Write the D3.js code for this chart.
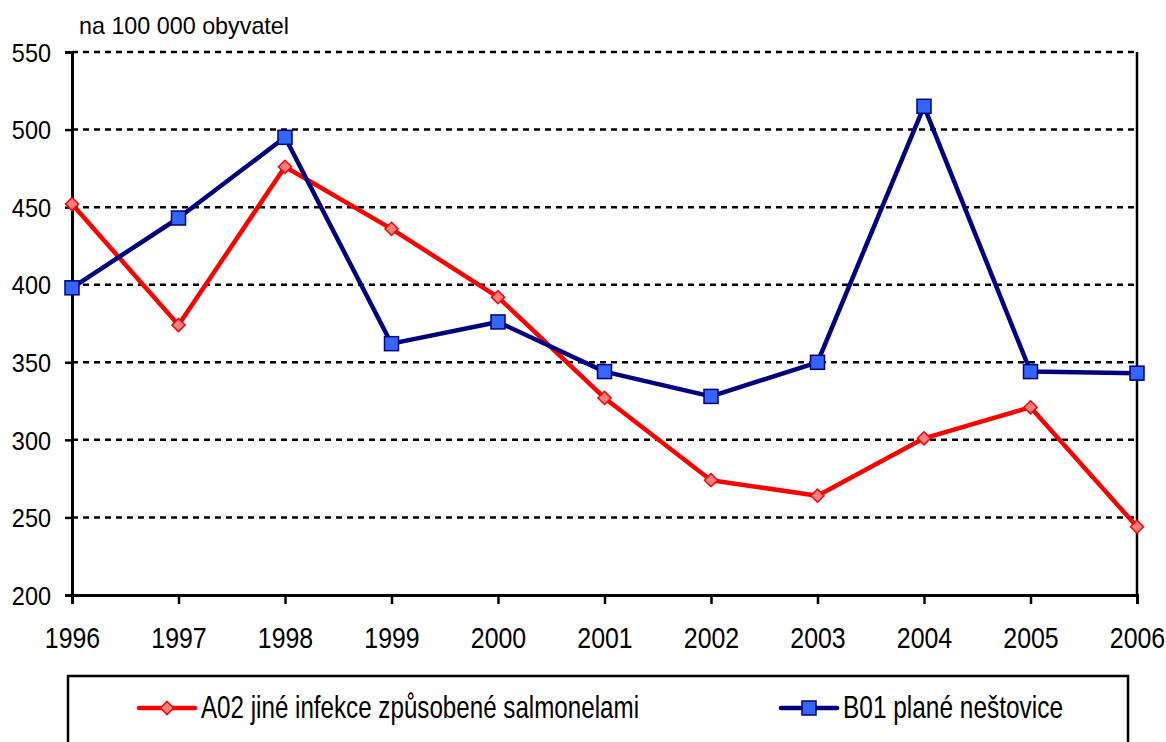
<!DOCTYPE html>
<html>
<head>
<meta charset="utf-8">
<script src="https://cdn.jsdelivr.net/npm/d3@7"></script>
<style>
  html, body { margin: 0; padding: 0; background: #fff; }
  svg { display: block; }
  text { font-family: "Liberation Sans", Arial, sans-serif; fill: #000; }
</style>
</head>
<body>
<svg id="chart"></svg>
<script>
// Data
const years = [1996, 1997, 1998, 1999, 2000, 2001, 2002, 2003, 2004, 2005, 2006]
const salmonela = [452, 374, 476, 436, 392, 327, 274, 264, 301, 321, 244]
const nestovice = [398, 443, 495, 362, 376, 344, 328, 350, 515, 344, 343]
const yTicks = [200, 250, 300, 350, 400, 450, 500, 550]
const unitLabel = 'na 100 000 obyvatel'
const seriesNames = ['A02 jiné infekce způsobené salmonelami', 'B01 plané neštovice']

const width = 1166
const height = 742
const margin = { top: 52, right: 29, bottom: 147, left: 72 }

const svg = d3.select('#chart')
  .attr('width', width)
  .attr('height', height)

const x = d3.scaleLinear()
  .domain([years[0], years[years.length - 1]])
  .range([margin.left, width - margin.right])

const y = d3.scaleLinear()
  .domain([200, 550])
  .range([height - margin.bottom, margin.top])

// Gridlines (dashed)
svg.append('g')
  .selectAll('line')
  .data(yTicks.filter(d => d > 200))
  .enter().append('line')
  .attr('x1', margin.left)
  .attr('x2', width - margin.right)
  .attr('y1', d => y(d))
  .attr('y2', d => y(d))
  .attr('stroke', '#000')
  .attr('stroke-width', 2.5)
  .attr('stroke-dasharray', '6,5')

// Right border
svg.append('line')
  .attr('x1', width - margin.right).attr('x2', width - margin.right)
  .attr('y1', margin.top).attr('y2', height - margin.bottom)
  .attr('stroke', '#000').attr('stroke-width', 2.5)

// Y axis
const yAxis = svg.append('g')
  .attr('transform', `translate(${margin.left},0)`)
  .call(d3.axisLeft(y).tickValues(yTicks).tickSize(7))
yAxis.select('.domain').attr('stroke-width', 3)
yAxis.selectAll('.tick line').attr('stroke-width', 2.5)
yAxis.selectAll('.tick text')
  .attr('font-size', 25.5)
  .attr('x', 0)
  .attr('dy', '0.36em')
  .attr('transform', 'translate(-21,0) scale(0.92,1)')

// X axis
const xAxis = svg.append('g')
  .attr('transform', `translate(0,${height - margin.bottom})`)
  .call(d3.axisBottom(x).tickValues(years).tickFormat(d3.format('d')).tickSize(9))
xAxis.select('.domain').attr('stroke-width', 3)
xAxis.selectAll('.tick line').attr('stroke-width', 2.5)
xAxis.selectAll('.tick text')
  .attr('font-size', 30)
  .attr('y', 0)
  .attr('dy', 0)
  .attr('transform', 'translate(0,53) scale(0.83,1)')

// Unit label
svg.append('text')
  .attr('x', 79)
  .attr('y', 33.5)
  .attr('font-size', 24)
  .attr('textLength', 210)
  .attr('lengthAdjust', 'spacingAndGlyphs')
  .text(unitLabel)

const line = d3.line()
  .x((d, i) => x(years[i]))
  .y(d => y(d))

// Red series
svg.append('path')
  .datum(salmonela)
  .attr('d', line)
  .attr('fill', 'none')
  .attr('stroke', '#ff0000')
  .attr('stroke-width', 4.5)
  .attr('stroke-linejoin', 'round')

const diamond = d3.symbol().type(d3.symbolDiamond2).size(110)

svg.append('g')
  .selectAll('path')
  .data(salmonela)
  .enter().append('path')
  .attr('d', diamond)
  .attr('transform', (d, i) => `translate(${x(years[i])},${y(d)})`)
  .attr('fill', '#ff8080')
  .attr('stroke', '#ff0000')
  .attr('stroke-width', 1.5)

// Blue series
svg.append('path')
  .datum(nestovice)
  .attr('d', line)
  .attr('fill', 'none')
  .attr('stroke', '#000080')
  .attr('stroke-width', 4.5)
  .attr('stroke-linejoin', 'round')

svg.append('g')
  .selectAll('rect')
  .data(nestovice)
  .enter().append('rect')
  .attr('x', (d, i) => x(years[i]) - 7)
  .attr('y', d => y(d) - 7)
  .attr('width', 14)
  .attr('height', 14)
  .attr('fill', '#3366ff')
  .attr('stroke', '#000080')
  .attr('stroke-width', 1.5)

// Legend
const legend = svg.append('g')
legend.append('rect')
  .attr('x', 68).attr('y', 676)
  .attr('width', 1060).attr('height', 80)
  .attr('fill', '#fff')
  .attr('stroke', '#000')
  .attr('stroke-width', 2.5)

const legendItems = [
  { name: seriesNames[0], x: 139, len: 438, color: '#ff0000', fill: '#ff8080', shape: 'diamond' },
  { name: seriesNames[1], x: 781, len: 220, color: '#000080', fill: '#3366ff', shape: 'square' }
]

legendItems.forEach(item => {
  const g = legend.append('g').attr('transform', `translate(${item.x},708)`)
  g.append('line')
    .attr('x1', 0).attr('x2', 56)
    .attr('stroke', item.color)
    .attr('stroke-width', 4.5)
    .attr('stroke-linecap', 'round')
  if (item.shape === 'diamond') {
    g.append('path')
      .attr('d', diamond)
      .attr('transform', 'translate(28,0)')
      .attr('fill', item.fill)
      .attr('stroke', item.color)
      .attr('stroke-width', 1.5)
  } else {
    g.append('rect')
      .attr('x', 21).attr('y', -7)
      .attr('width', 14).attr('height', 14)
      .attr('fill', item.fill)
      .attr('stroke', item.color)
      .attr('stroke-width', 1.5)
  }
  g.append('text')
    .attr('x', 62)
    .attr('y', 10)
    .attr('font-size', 32)
    .attr('textLength', item.len)
    .attr('lengthAdjust', 'spacingAndGlyphs')
    .text(item.name)
})
</script>
</body>
</html>
